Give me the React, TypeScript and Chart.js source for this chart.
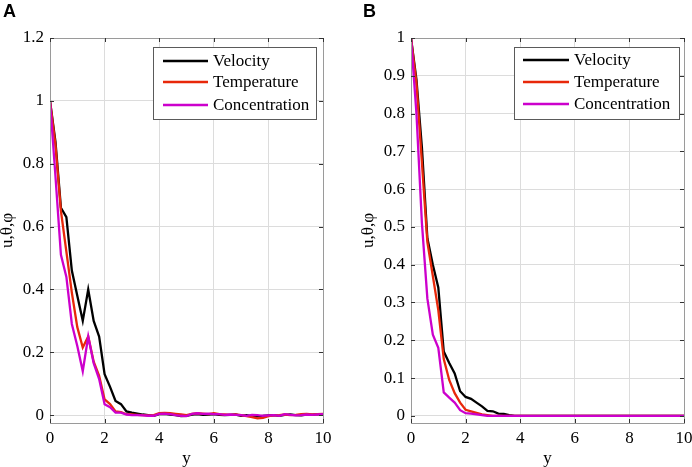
import React, { useEffect, useRef } from 'react';
import { Chart, registerables } from 'chart.js';

Chart.register(...registerables);

// ---------- data ----------
const xValues = [
  0, 0.2, 0.4, 0.6, 0.8, 1.0, 1.2, 1.4, 1.6, 1.8,
  2.0, 2.2, 2.4, 2.6, 2.8, 3.0, 3.2, 3.4, 3.6, 3.8,
  4.0, 4.2, 4.4, 4.6, 4.8, 5.0, 5.2, 5.4, 5.6, 5.8,
  6.0, 6.2, 6.4, 6.6, 6.8, 7.0, 7.2, 7.4, 7.6, 7.8,
  8.0, 8.2, 8.4, 8.6, 8.8, 9.0, 9.2, 9.4, 9.6, 9.8, 10.0,
];

const velocityA = [
  1.0, 0.87, 0.66, 0.63, 0.46, 0.38, 0.30, 0.40, 0.30, 0.25,
  0.13, 0.09, 0.045, 0.035, 0.012, 0.008, 0.005, 0.002, 0.0, -0.002,
  0.003, 0.004, 0.002, 0.0, -0.003, -0.002, 0.002, 0.003, 0.001, 0.002,
  0.003, 0.001, 0.0, 0.001, 0.002, -0.002, 0.0, -0.003, -0.004, -0.002,
  -0.001, 0.0, -0.002, 0.001, 0.002, 0.0, -0.001, 0.002, 0.001, 0.003, 0.002,
];
const temperatureA = [
  1.0, 0.86, 0.65, 0.52, 0.39, 0.28, 0.215, 0.25, 0.17, 0.125,
  0.05, 0.035, 0.012, 0.01, 0.003, 0.002, 0.001, 0.0, -0.001, 0.0,
  0.006, 0.007, 0.006, 0.004, 0.002, 0.0, 0.004, 0.006, 0.005, 0.003,
  0.006, 0.003, 0.002, 0.001, 0.002, 0.0, -0.003, -0.006, -0.01, -0.009,
  -0.003, -0.001, 0.0, 0.002, 0.0, 0.001, 0.003, 0.004, 0.002, 0.003, 0.004,
];
const concentrationA = [
  1.0, 0.76, 0.51, 0.44, 0.29, 0.22, 0.14, 0.25, 0.165, 0.115,
  0.035, 0.025, 0.008, 0.008, 0.002, 0.0, 0.0, -0.001, -0.002, -0.002,
  0.004, 0.005, 0.003, 0.0, -0.002, -0.003, 0.004, 0.006, 0.004, 0.005,
  0.003, 0.003, 0.001, 0.002, 0.001, 0.0, -0.002, 0.001, 0.0, -0.002,
  -0.001, 0.0, -0.002, 0.003, 0.001, -0.001, 0.0, 0.002, 0.001, 0.002, 0.003,
];

const velocityB = [
  1.0, 0.89, 0.71, 0.47, 0.40, 0.34, 0.17, 0.14, 0.112, 0.065,
  0.05, 0.045, 0.035, 0.025, 0.013, 0.012, 0.006, 0.005, 0.002, 0,
  0, 0, 0, 0, 0, 0, 0, 0, 0, 0,
  0, 0, 0, 0, 0, 0, 0, 0, 0, 0,
  0, 0, 0, 0, 0, 0, 0, 0, 0, 0, 0,
];
const temperatureB = [
  1.0, 0.88, 0.67, 0.46, 0.37, 0.28, 0.15, 0.095, 0.06, 0.035,
  0.016, 0.012, 0.008, 0.004, 0.002, 0, 0, 0, 0, 0,
  0, 0, 0, 0, 0, 0, 0, 0, 0, 0,
  0, 0, 0, 0, 0, 0, 0, 0, 0, 0,
  0, 0, 0, 0, 0, 0, 0, 0, 0, 0, 0,
];
const concentrationB = [
  1.0, 0.80, 0.51, 0.31, 0.215, 0.18, 0.062, 0.048, 0.035, 0.015,
  0.007, 0.006, 0.004, 0.002, 0, 0, 0, 0, 0, 0,
  0, 0, 0, 0, 0, 0, 0, 0, 0, 0,
  0, 0, 0, 0, 0, 0, 0, 0, 0, 0,
  0, 0, 0, 0, 0, 0, 0, 0, 0, 0, 0,
];

const seriesNames = ['Velocity', 'Temperature', 'Concentration'];
const seriesColors = ['#000000', '#e8280a', '#cc00cc'];

const xTicks = [0, 2, 4, 6, 8, 10];
const xTickLabels = ['0', '2', '4', '6', '8', '10'];
const yTicksA = [0, 0.2, 0.4, 0.6, 0.8, 1.0, 1.2];
const yTickLabelsA = ['0', '0.2', '0.4', '0.6', '0.8', '1', '1.2'];
const yTicksB = [0, 0.1, 0.2, 0.3, 0.4, 0.5, 0.6, 0.7, 0.8, 0.9, 1.0];
const yTickLabelsB = ['0', '0.1', '0.2', '0.3', '0.4', '0.5', '0.6', '0.7', '0.8', '0.9', '1'];

const xTitle = 'y';
const yTitle = 'u,θ,φ';

// ---------- styling ----------
const SERIF = '"Liberation Serif", "Times New Roman", serif';
const GRID = '#dcdcdc';
const BOX = '#9a9a9a';

type PanelSpec = {
  series: number[][];
  yMin: number;
  yMax: number;
  yTicks: number[];
  yTickLabels: string[];
  padding: { top: number; right: number; bottom: number; left: number };
  yAxisWidth: number;
  yTitlePad: number;
  legend: { left: number; top: number; width: number; height: number; lineX0: number; lineX1: number; textX: number; rows: number[] };
};

const panelA: PanelSpec = {
  series: [velocityA, temperatureA, concentrationA],
  yMin: -0.025,
  yMax: 1.2,
  yTicks: yTicksA,
  yTickLabels: yTickLabelsA,
  padding: { top: 38, right: 23, bottom: 0, left: 0 },
  yAxisWidth: 50,
  yTitlePad: -1,
  legend: { left: 153, top: 47, width: 163, height: 72, lineX0: 163, lineX1: 208, textX: 213, rows: [61, 82, 105] },
};

const panelB: PanelSpec = {
  series: [velocityB, temperatureB, concentrationB],
  yMin: -0.019,
  yMax: 1.0,
  yTicks: yTicksB,
  yTickLabels: yTickLabelsB,
  padding: { top: 38, right: 8, bottom: 0, left: 0 },
  yAxisWidth: 65,
  yTitlePad: 14,
  legend: { left: 168, top: 47, width: 165, height: 72, lineX0: 177, lineX1: 223, textX: 228, rows: [60, 82, 104] },
};

function makePlugin(p: PanelSpec) {
  return {
    id: 'matlabBox',
    afterDraw(chart: any) {
      const { ctx, chartArea } = chart;
      const { left, right, top, bottom } = chartArea;
      const xs = chart.scales.x;
      const ys = chart.scales.y;
      ctx.save();
      // box
      ctx.strokeStyle = BOX;
      ctx.lineWidth = 1;
      ctx.strokeRect(Math.round(left) + 0.5, Math.round(top) + 0.5, Math.round(right - left), Math.round(bottom - top));
      // inward tick marks
      ctx.strokeStyle = '#333';
      ctx.lineWidth = 1;
      ctx.beginPath();
      p.yTicks.forEach((v) => {
        const py = Math.round(ys.getPixelForValue(v)) + 0.5;
        ctx.moveTo(left, py);
        ctx.lineTo(left + 4, py);
        ctx.moveTo(right - 4, py);
        ctx.lineTo(right, py);
      });
      xTicks.forEach((v) => {
        const px = Math.round(xs.getPixelForValue(v)) + 0.5;
        ctx.moveTo(px, bottom);
        ctx.lineTo(px, bottom - 4);
        ctx.moveTo(px, top);
        ctx.lineTo(px, top + 4);
      });
      ctx.stroke();
      // legend
      const L = p.legend;
      ctx.fillStyle = '#ffffff';
      ctx.fillRect(L.left, L.top, L.width, L.height);
      ctx.strokeStyle = '#5a5a5a';
      ctx.lineWidth = 1;
      ctx.strokeRect(L.left + 0.5, L.top + 0.5, L.width, L.height);
      ctx.font = `17px ${SERIF}`;
      ctx.textBaseline = 'middle';
      ctx.textAlign = 'left';
      seriesNames.forEach((name, i) => {
        const y = L.rows[i];
        ctx.strokeStyle = seriesColors[i];
        ctx.lineWidth = 2.4;
        ctx.beginPath();
        ctx.moveTo(L.lineX0, y);
        ctx.lineTo(L.lineX1, y);
        ctx.stroke();
        ctx.fillStyle = '#000';
        ctx.fillText(name, L.textX, y + 1);
      });
      ctx.restore();
    },
  };
}

function makeConfig(p: PanelSpec): any {
  return {
    type: 'line',
    data: {
      datasets: seriesNames.map((name, i) => ({
        label: name,
        data: xValues.map((x, j) => ({ x, y: p.series[i][j] })),
        borderColor: seriesColors[i],
        backgroundColor: seriesColors[i],
        borderWidth: 2.3,
        pointRadius: 0,
        tension: 0,
        fill: false,
        order: 2 - i,
      })),
    },
    options: {
      animation: false,
      responsive: true,
      maintainAspectRatio: false,
      layout: { padding: p.padding },
      plugins: { legend: { display: false }, tooltip: { enabled: false } },
      scales: {
        x: {
          type: 'linear',
          min: 0,
          max: 10,
          afterBuildTicks: (s: any) => {
            s.ticks = xTicks.map((v) => ({ value: v }));
          },
          afterFit: (s: any) => {
            s.height = 44;
            s.paddingLeft = 0;
            s.paddingRight = 0;
          },
          ticks: {
            autoSkip: false,
            maxRotation: 0,
            padding: 5,
            color: '#000',
            font: { family: SERIF, size: 17 },
            callback: (_v: any, i: number) => xTickLabels[i],
          },
          grid: { color: GRID, lineWidth: 1, drawTicks: false },
          border: { display: true, color: BOX, width: 1 },
          title: {
            display: true,
            text: xTitle,
            color: '#000',
            font: { family: SERIF, size: 17, lineHeight: 1 },
            padding: { top: 0, bottom: 0 },
          },
        },
        y: {
          type: 'linear',
          min: p.yMin,
          max: p.yMax,
          afterBuildTicks: (s: any) => {
            s.ticks = p.yTicks.map((v) => ({ value: v }));
          },
          afterFit: (s: any) => {
            s.width = p.yAxisWidth;
            s.paddingTop = 0;
            s.paddingBottom = 0;
          },
          ticks: {
            autoSkip: false,
            padding: 6,
            color: '#000',
            font: { family: SERIF, size: 17 },
            callback: (_v: any, i: number) => p.yTickLabels[i],
          },
          grid: { color: GRID, lineWidth: 1, drawTicks: false },
          border: { display: true, color: BOX, width: 1 },
          title: {
            display: true,
            text: yTitle,
            color: '#000',
            font: { family: SERIF, size: 17, lineHeight: 1 },
            padding: { top: p.yTitlePad, bottom: 0 },
          },
        },
      },
    },
    plugins: [makePlugin(p)],
  };
}

function Panel({ spec, left }: { spec: PanelSpec; left: number }) {
  const ref = useRef<HTMLCanvasElement | null>(null);
  useEffect(() => {
    if (!ref.current) return;
    const chart = new Chart(ref.current, makeConfig(spec));
    return () => chart.destroy();
  }, [spec]);
  return (
    <div style={{ position: 'absolute', left, top: 0, width: 346, height: 467 }}>
      <canvas ref={ref} />
    </div>
  );
}

const letterStyle: React.CSSProperties = {
  position: 'absolute',
  top: 2,
  fontFamily: '"Liberation Sans", Arial, sans-serif',
  fontWeight: 'bold',
  fontSize: 18,
  lineHeight: '18px',
  color: '#000',
};

export default function App() {
  return (
    <div
      style={{
        position: 'fixed',
        left: 0,
        top: 0,
        width: 692,
        height: 467,
        background: '#ffffff',
        overflow: 'hidden',
      }}
    >
      <Panel spec={panelA} left={0} />
      <Panel spec={panelB} left={346} />
      <div style={{ ...letterStyle, left: 3 }}>A</div>
      <div style={{ ...letterStyle, left: 363 }}>B</div>
    </div>
  );
}
